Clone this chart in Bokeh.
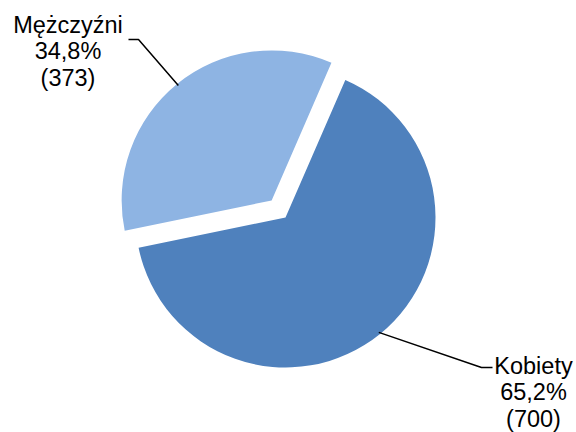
import math
from bokeh.plotting import figure
from bokeh.models import Range1d
from bokeh.embed import file_html
from bokeh.resources import INLINE
from bokeh.core.properties import value

# ---- data ----
categories = ["Kobiety", "Mężczyźni"]
counts = [700, 373]
percents = [65.2, 34.8]
colors = ["#4F81BD", "#8EB4E3"]
explode_px = [0, 22]

# ---- layout ----
W, H = 576, 432
cx, cy, R = 285, 215, 150
first_angle = 23.5  # clockwise from 12 o'clock
label_pos = {"Kobiety": (533, 67), "Mężczyźni": (67.5, 408)}
leader_elbow = {"Kobiety": [(481, 65), (492, 65)], "Mężczyźni": [(138, 393), (128, 393)]}
line_gap = 26.5
FONT = "Liberation Sans"

p = figure(width=W, height=H, x_range=Range1d(0, W), y_range=Range1d(0, H),
           output_backend="svg", toolbar_location=None, min_border=0)
p.axis.visible = False
p.grid.visible = False
p.outline_line_color = None
p.background_fill_color = "white"
p.border_fill_color = "white"

total = sum(counts)
clock = first_angle
for name, cnt, pct, col, ex in zip(categories, counts, percents, colors, explode_px):
    span = 360.0 * cnt / total
    c0, c1 = clock, clock + span
    clock = c1
    start = 90 - c1
    end = 90 - c0
    mid = math.radians(90 - (c0 + c1) / 2)
    sx = cx + ex * math.cos(mid)
    sy = cy + ex * math.sin(mid)
    p.wedge(x=[sx], y=[sy], radius=R, start_angle=[start], end_angle=[end],
            start_angle_units="deg", end_angle_units="deg", direction="anticlock",
            fill_color=col, line_color=None)
    # leader line
    ax = sx + (R - 2) * math.cos(mid)
    ay = sy + (R - 2) * math.sin(mid)
    pts = [(ax, ay)] + leader_elbow[name]
    p.line([q[0] for q in pts], [q[1] for q in pts], line_color="black", line_width=1.5)
    # label
    lines = [name, ("%.1f%%" % pct).replace(".", ","), "(%d)" % cnt]
    lx, ly = label_pos[name]
    p.text(x=[lx] * 3, y=[ly - i * line_gap for i in range(3)], text=lines,
           text_font=value(FONT), text_font_size="23.5px", text_color="black",
           text_align="center", text_baseline="alphabetic")

open("out.html", "w").write(file_html(p, INLINE))
